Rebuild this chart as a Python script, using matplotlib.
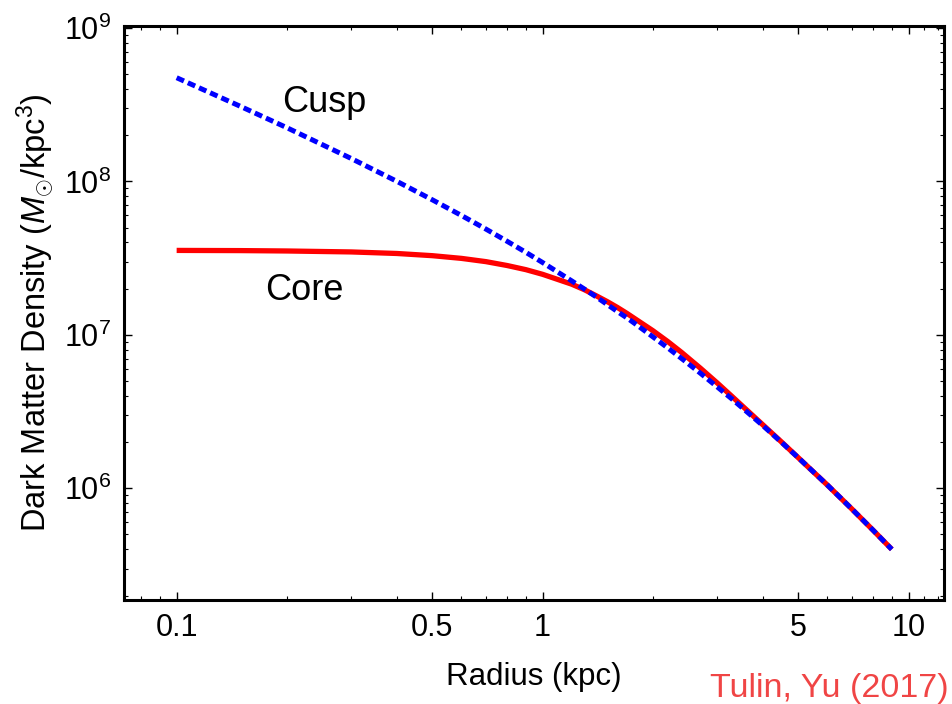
import matplotlib
matplotlib.use("Agg")
import matplotlib.pyplot as plt
from matplotlib.ticker import FixedLocator, FixedFormatter, NullFormatter

plt.rcParams['font.family'] = ['Liberation Sans', 'DejaVu Sans']
plt.rcParams['mathtext.fontset'] = 'custom'
plt.rcParams['mathtext.rm'] = 'Liberation Sans'
plt.rcParams['mathtext.it'] = 'Liberation Sans:italic'
plt.rcParams['mathtext.bf'] = 'Liberation Sans:bold'

# Data
radius = [0.1, 0.15, 0.2, 0.3, 0.4, 0.5, 0.6, 0.7, 0.8, 0.9, 1.0, 1.2, 1.3,
          1.4, 1.5, 1.6, 1.7, 1.8, 2.0, 2.2, 2.4, 2.7, 3.0, 3.3, 3.5, 4.0,
          4.5, 5.0, 6.0, 7.0, 8.0, 9.0]
cusp = [4.74e8, 3.07e8, 2.24e8, 1.41e8, 1.00e8, 7.58e7, 6.00e7, 4.89e7,
        4.07e7, 3.45e7, 2.96e7, 2.25e7, 1.99e7, 1.77e7, 1.58e7, 1.42e7,
        1.29e7, 1.17e7, 9.72e6, 8.21e6, 7.00e6, 5.62e6, 4.58e6, 3.80e6,
        3.37e6, 2.56e6, 1.99e6, 1.58e6, 1.05e6, 7.33e5, 5.33e5, 4.00e5]
core = [3.55e7, 3.54e7, 3.52e7, 3.47e7, 3.39e7, 3.28e7, 3.15e7, 3.00e7,
        2.83e7, 2.66e7, 2.48e7, 2.14e7, 1.97e7, 1.80e7, 1.65e7, 1.51e7,
        1.38e7, 1.26e7, 1.066e7, 9.03e6, 7.67e6, 6.06e6, 4.86e6, 3.95e6,
        3.47e6, 2.59e6, 2.00e6, 1.58e6, 1.05e6, 7.33e5, 5.33e5, 4.00e5]

xticks_major = [0.1, 0.5, 1, 5, 10]
xtick_labels = ["0.1", "0.5", "1", "5", "10"]
xticks_minor = [0.08, 0.09, 0.2, 0.3, 0.4, 0.6, 0.7, 0.8, 0.9,
                2, 3, 4, 6, 7, 8, 9, 11, 12]
yticks_major = [1e6, 1e7, 1e8, 1e9]
ytick_labels = [r"$10^6$", r"$10^7$", r"$10^8$", r"$10^9$"]

fig = plt.figure(figsize=(9.52, 7.04), dpi=100)
ax = fig.add_axes([124/952, 1-600/704, (944-124)/952, (600-26)/704])

ax.plot(radius, core, color='#ff0000', lw=3.8, solid_capstyle='butt',
        solid_joinstyle='round', zorder=2)
ax.plot(radius, cusp, color='#0000ff', lw=3.6, linestyle=(0, (1.6, 0.85)),
        dash_capstyle='butt', zorder=3)

ax.set_xscale('log')
ax.set_yscale('log')
ax.set_xlim(0.0718, 12.5)
ax.set_ylim(1.87e5, 1.03e9)

ax.xaxis.set_major_locator(FixedLocator(xticks_major))
ax.xaxis.set_major_formatter(FixedFormatter(xtick_labels))
ax.xaxis.set_minor_locator(FixedLocator(xticks_minor))
ax.xaxis.set_minor_formatter(NullFormatter())
ax.yaxis.set_major_locator(FixedLocator(yticks_major))
ax.yaxis.set_major_formatter(FixedFormatter(ytick_labels))

for s in ax.spines.values():
    s.set_linewidth(2.2)
ax.tick_params(which='major', direction='in', length=5.5, width=1.0,
               top=True, right=True, labelsize=22, pad=9)
ax.tick_params(which='minor', direction='in', length=3, width=0.8,
               top=True, right=True)

ax.set_xlabel("Radius (kpc)", fontsize=22.5, labelpad=14)
ax.set_ylabel(r"Dark Matter Density ($M_{\odot}$/kpc$^3$)", fontsize=23.5,
              labelpad=6)

ax.text(0.194, 2.85e8, "Cusp", fontsize=26, ha='left', va='baseline')
ax.text(0.174, 1.69e7, "Core", fontsize=26, ha='left', va='baseline')

fig.text(949/952, 1-688/704, "Tulin, Yu (2017)", color='#f04545',
         fontsize=24.5, ha='right', va='center')

fig.savefig("out.png", dpi=100)
